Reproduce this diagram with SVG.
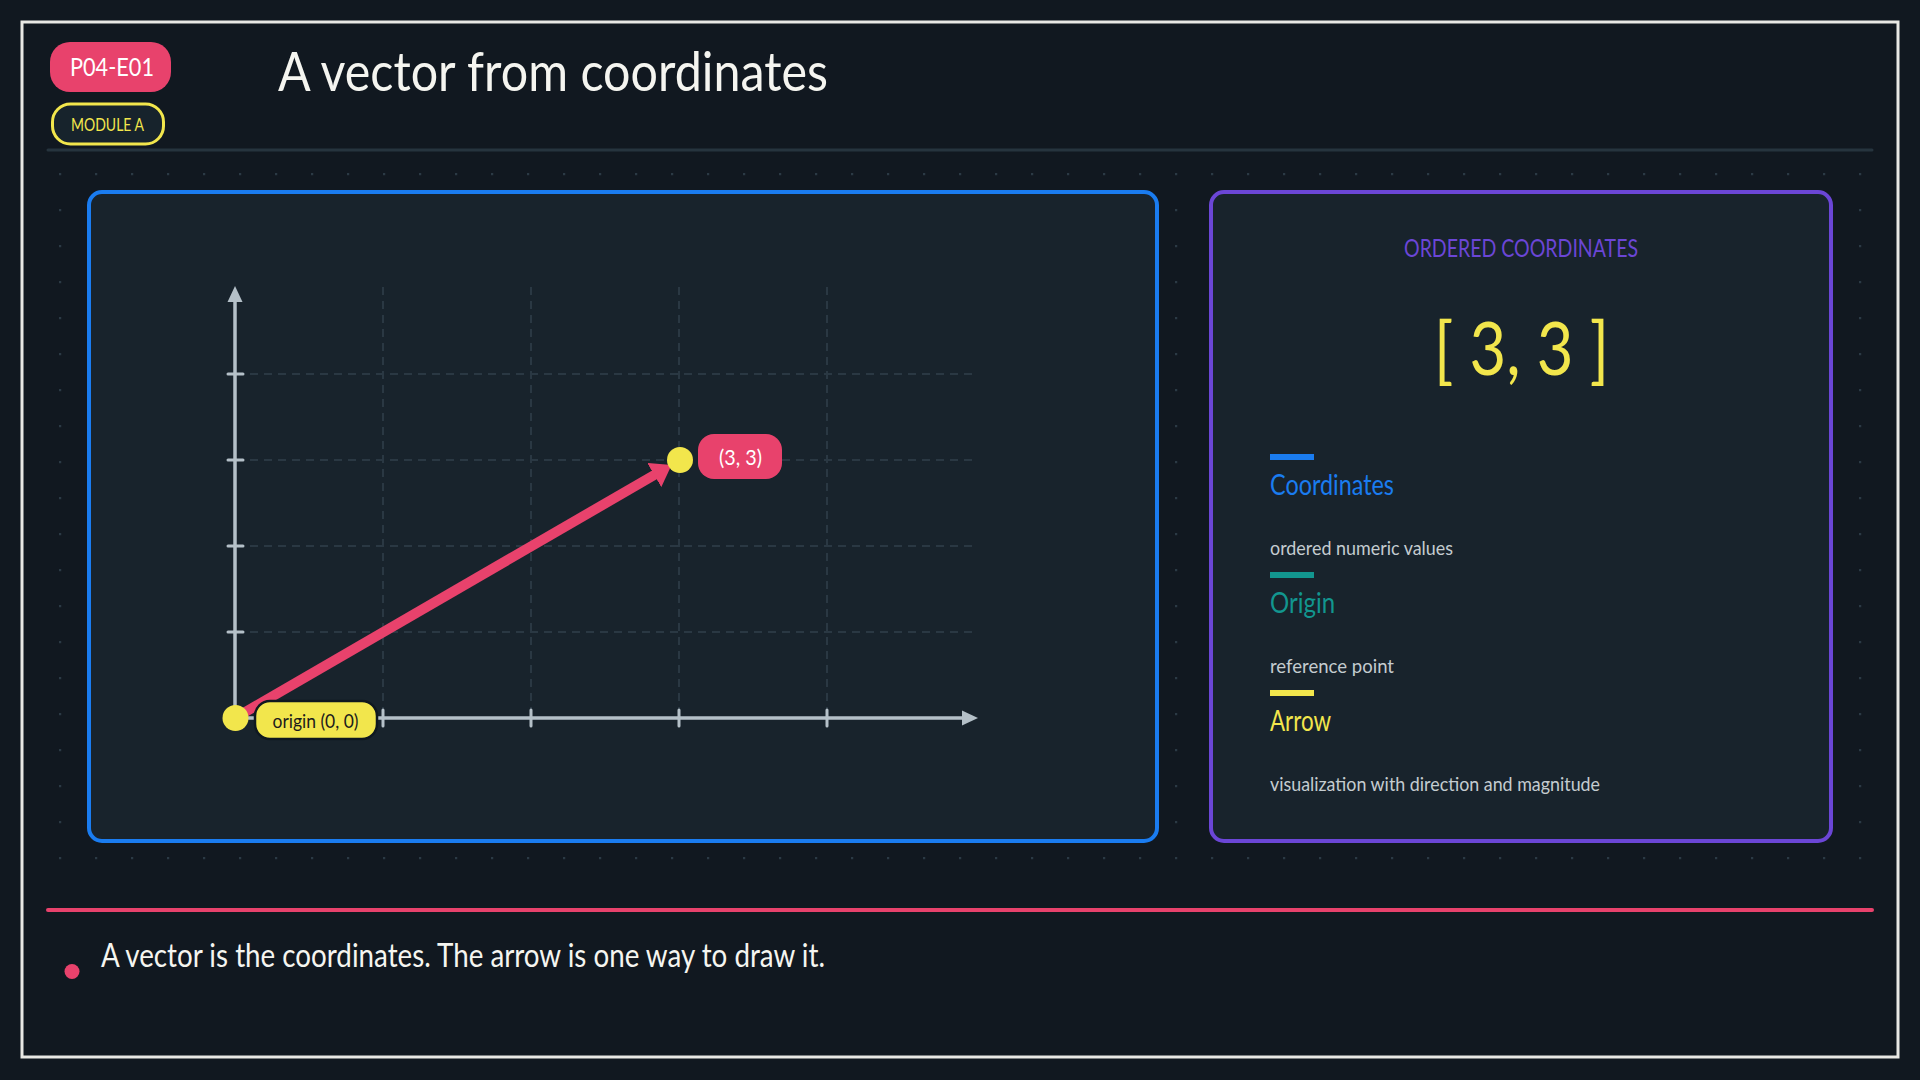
<svg xmlns="http://www.w3.org/2000/svg" width="1920" height="1080" viewBox="0 0 1920 1080">
  <defs>
    <style>
      .f { font-family: "Lato", "Liberation Sans", sans-serif; }
      .grid { stroke: #2a3843; stroke-width: 2; stroke-dasharray: 8 6; fill: none; }
      .axis { stroke: #b4c0c8; stroke-width: 3.5; fill: none; stroke-linecap: round; }
      .tick { stroke: #b4c0c8; stroke-width: 3; stroke-linecap: round; }
      .panel { fill: #18232c; stroke-width: 4; }
      .legend-title { font-size: 28px; }
      .legend-desc { font-size: 20px; fill: #c4ccd0; }
    </style>
    <pattern id="dots" patternUnits="userSpaceOnUse" x="59" y="173" width="36" height="36">
      <rect x="0" y="0" width="2.2" height="2.2" fill="#2b3a45"/>
    </pattern>
    <marker id="vhead" markerUnits="userSpaceOnUse" viewBox="0 0 20 28" refX="2" refY="14" markerWidth="20" markerHeight="28" orient="auto">
      <path d="M0,0 L20,14 L0,28 Z" fill="#e8426c"/>
    </marker>
  </defs>

  <rect x="0" y="0" width="1920" height="1080" fill="#111820"/>
  <rect x="22" y="22" width="1876" height="1035" fill="none" stroke="#e8e8e4" stroke-width="3"/>
  <rect x="59" y="173" width="1803" height="688" fill="url(#dots)"/>

  <g id="header">
    <g id="badge-code">
      <rect x="50" y="42" width="121" height="50" rx="20" fill="#e8426c"/>
      <text class="f" x="70" y="76" font-size="25" fill="#ffffff" textLength="84" lengthAdjust="spacingAndGlyphs">P04-E01</text>
    </g>
    <g id="badge-module">
      <rect x="52.5" y="104" width="111" height="40" rx="18" fill="#17232c" stroke="#f2e64c" stroke-width="3"/>
      <text class="f" x="71" y="131" font-size="18" fill="#f2e64c" textLength="73" lengthAdjust="spacingAndGlyphs">MODULE A</text>
    </g>
    <text id="title" class="f" x="278" y="91" font-size="54" fill="#f5f5f0" textLength="550" lengthAdjust="spacingAndGlyphs">A vector from coordinates</text>
    <line x1="48" y1="150" x2="1872" y2="150" stroke="#26343e" stroke-width="3" stroke-linecap="round"/>
  </g>

  <g id="graph-panel">
    <rect class="panel" x="89" y="192" width="1068" height="649" rx="13" stroke="#1a7cf0"/>
    <g id="grid">
      <line class="grid" x1="383" y1="287" x2="383" y2="712"/>
      <line class="grid" x1="531" y1="287" x2="531" y2="712"/>
      <line class="grid" x1="679" y1="287" x2="679" y2="712"/>
      <line class="grid" x1="827" y1="287" x2="827" y2="712"/>
      <line class="grid" x1="250" y1="374" x2="976" y2="374"/>
      <line class="grid" x1="250" y1="460" x2="976" y2="460"/>
      <line class="grid" x1="250" y1="546" x2="976" y2="546"/>
      <line class="grid" x1="250" y1="632" x2="976" y2="632"/>
    </g>
    <g id="axes">
      <line class="axis" x1="235" y1="718" x2="964" y2="718"/>
      <path d="M962,710.5 L978,718 L962,725.5 Z" fill="#b4c0c8"/>
      <line class="axis" x1="235" y1="718" x2="235" y2="300"/>
      <path d="M227.5,302 L235,286 L242.5,302 Z" fill="#b4c0c8"/>
      <line class="tick" x1="383" y1="710" x2="383" y2="726"/>
      <line class="tick" x1="531" y1="710" x2="531" y2="726"/>
      <line class="tick" x1="679" y1="710" x2="679" y2="726"/>
      <line class="tick" x1="827" y1="710" x2="827" y2="726"/>
      <line class="tick" x1="228" y1="374" x2="243" y2="374"/>
      <line class="tick" x1="228" y1="460" x2="243" y2="460"/>
      <line class="tick" x1="228" y1="546" x2="243" y2="546"/>
      <line class="tick" x1="228" y1="632" x2="243" y2="632"/>
    </g>
  </g>

  <g id="connectors">
    <line id="vector-arrow" x1="235" y1="718" x2="656" y2="474" stroke="#e8426c" stroke-width="10" marker-end="url(#vhead)"/>
  </g>

  <g id="origin-node">
    <circle cx="235.5" cy="718" r="13" fill="#f2e64c"/>
    <rect x="255" y="701" width="122" height="38" rx="15" fill="#f2e64c" stroke="#0f1820" stroke-width="2.5"/>
    <text class="f" x="272.5" y="728" font-size="19" fill="#1c1c1c" textLength="86" lengthAdjust="spacingAndGlyphs">origin (0, 0)</text>
  </g>

  <g id="point-node">
    <circle cx="680" cy="460" r="13" fill="#f2e64c"/>
    <rect x="698" y="434" width="84" height="45" rx="16" fill="#e8426c"/>
    <text class="f" x="719" y="465" font-size="22" fill="#ffffff" textLength="43" lengthAdjust="spacingAndGlyphs">(3, 3)</text>
  </g>

  <g id="info-panel">
    <rect class="panel" x="1211" y="192" width="620" height="649" rx="13" stroke="#6b46d6"/>
    <text class="f" x="1404" y="257" font-size="25" fill="#6b46d6" textLength="234" lengthAdjust="spacingAndGlyphs">ORDERED COORDINATES</text>
    <text class="f" x="1434" y="375" font-size="74" fill="#f2e64c" textLength="175" lengthAdjust="spacingAndGlyphs">[ 3, 3 ]</text>
    <g id="legend-coordinates">
      <rect x="1270" y="454" width="44" height="6" fill="#1a7cf0"/>
      <text class="f legend-title" x="1270" y="495" fill="#1a7cf0" textLength="124" lengthAdjust="spacingAndGlyphs">Coordinates</text>
      <text class="f legend-desc" x="1270" y="555" textLength="183" lengthAdjust="spacingAndGlyphs">ordered numeric values</text>
    </g>
    <g id="legend-origin">
      <rect x="1270" y="572" width="44" height="6" fill="#12968f"/>
      <text class="f legend-title" x="1270" y="613" fill="#12968f" textLength="65" lengthAdjust="spacingAndGlyphs">Origin</text>
      <text class="f legend-desc" x="1270" y="673" textLength="124" lengthAdjust="spacingAndGlyphs">reference point</text>
    </g>
    <g id="legend-arrow">
      <rect x="1270" y="690" width="44" height="6" fill="#f2e64c"/>
      <text class="f legend-title" x="1270" y="731" fill="#f2e64c" textLength="61" lengthAdjust="spacingAndGlyphs">Arrow</text>
      <text class="f legend-desc" x="1270" y="791" textLength="330" lengthAdjust="spacingAndGlyphs">visualization with direction and magnitude</text>
    </g>
  </g>

  <g id="footer">
    <line x1="48" y1="910" x2="1872" y2="910" stroke="#e8426c" stroke-width="4" stroke-linecap="round"/>
    <circle cx="72" cy="971.5" r="7.5" fill="#e8426c"/>
    <text class="f" x="101" y="967" font-size="32" fill="#f5f5f0" textLength="724" lengthAdjust="spacingAndGlyphs">A vector is the coordinates. The arrow is one way to draw it.</text>
  </g>
</svg>
